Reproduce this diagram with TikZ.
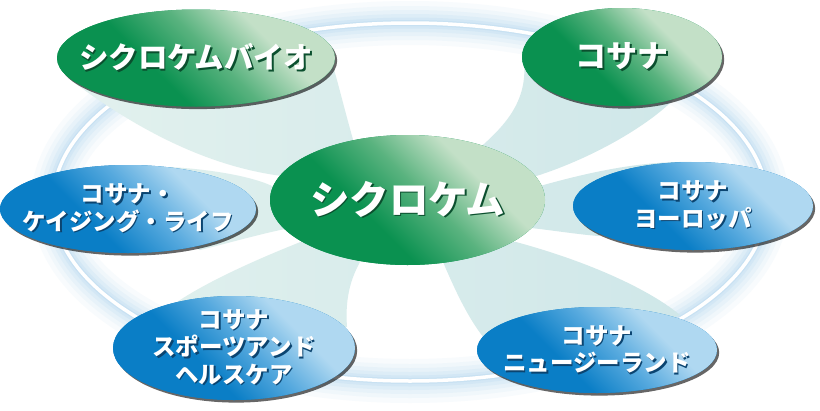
\documentclass[tikz,border=0pt]{standalone}
\usepackage{fontspec}
\newfontfamily\jp{Noto Sans CJK JP}
\usetikzlibrary{shapes.geometric,shadows}
\definecolor{gdark}{HTML}{0A9150}
\definecolor{gmid}{HTML}{5AB37F}
\definecolor{glight}{HTML}{C3E0C7}
\definecolor{bdark}{HTML}{0A7EC6}
\definecolor{bmid}{HTML}{56A9DE}
\definecolor{blight}{HTML}{AFD8F1}
\definecolor{gshadow}{HTML}{0B4F2E}
\definecolor{bshadow}{HTML}{0B4470}
\definecolor{wedgeL}{HTML}{E2F1EE}
\definecolor{wedgeR}{HTML}{CFE7E9}
\definecolor{glowc}{HTML}{9CCBEA}
\colorlet{shc}{black}
\pgfdeclarehorizontalshading{gshade}{100bp}{color(0bp)=(gdark); color(43.5bp)=(gdark); color(52.5bp)=(gmid); color(61bp)=(glight); color(100bp)=(glight)}
\pgfdeclarehorizontalshading{bshade}{100bp}{color(0bp)=(bdark); color(43.5bp)=(bdark); color(52.5bp)=(bmid); color(61bp)=(blight); color(100bp)=(blight)}
\newcommand{\sht}[1]{\leavevmode\rlap{\hspace{1.6pt}\raisebox{-1.6pt}{\textcolor{shc}{#1}}}\textcolor{white}{#1}}
\tikzset{
  bubble/.style 2 args={ellipse, inner sep=0pt, fill=#1dark,
    path picture={
      \shade[shading=#1shade, shading angle=45]
        ([xshift=-1.4*#2pt, yshift=-1.4*#2pt]path picture bounding box.center) rectangle
        ([xshift=1.4*#2pt, yshift=1.4*#2pt]path picture bounding box.center);}},
  gbub/.style={bubble={g}{#1}},
  bbub/.style={bubble={b}{#1}},
  shadowed/.style={drop shadow={shadow xshift=2.2pt, shadow yshift=-2.6pt, fill=black, opacity=.6}},
  gtxt/.style={font=\jp\bfseries\fontsize{#1}{#1}\selectfont, inner sep=0pt,
    execute at begin node=\colorlet{shc}{gshadow}},
  btxt/.style={font=\jp\bfseries\fontsize{23.5}{27.5}\selectfont, inner sep=0pt, align=center,
    execute at begin node=\colorlet{shc}{bshadow}},
  glowline/.style={draw=glowc, line width=#1},
  ringline/.style={draw=white, line width=3.5pt}
}
\begin{document}
\begin{tikzpicture}[x=1pt,y=-1pt]
\useasboundingbox (0,0) rectangle (820,410);
\fill[white] (0,0) rectangle (820,410);
% glowing ring
\coordinate (ringc) at (410,202);
\foreach \w/\o in {44/0.07,34/0.08,26/0.1,18/0.12,11/0.15,6/0.2}
  \draw[glowline=\w pt, opacity=\o] (ringc) ellipse [x radius=357pt, y radius=179pt];
\draw[ringline] (ringc) ellipse [x radius=357pt, y radius=179pt];
% wedges
\shade[left color=wedgeL, right color=wedgeR]
  (400,195) -- (282,176) .. controls (220,168) and (150,140) .. (68,78) -- (196,58) -- (333,66) .. controls (340,90) and (345,112) .. (356,150) -- cycle
  (410,195) -- (475,152) .. controls (500,130) and (528,105) .. (524,62) -- (622,57) -- (676,97) .. controls (650,125) and (590,160) .. (530,178) -- cycle
  (410,200) -- (540,186) .. controls (590,172) and (640,161) .. (692,162) -- (693,206) -- (598,236) .. controls (575,234) and (550,230) .. (531,228) -- cycle
  (470,240) -- (443,262) .. controls (455,290) and (468,318) .. (484,338) -- (597,350) -- (680,315) .. controls (650,290) and (590,262) .. (516,242) -- cycle
  (340,240) -- (303,241) .. controls (260,258) and (210,280) .. (177,302) -- (234,348) -- (347,327) .. controls (345,300) and (350,280) .. (360,262) -- cycle
  (330,210) -- (272,186) .. controls (255,178) and (220,170) .. (170,167) -- (128,209) -- (200,250) .. controls (225,244) and (260,234) .. (285,229) -- cycle;
% bubbles
\node[gbub=107.5, minimum width=275pt, minimum height=130pt] (main) at (407.5,200) {};
\node[gbub=104, shadowed, minimum width=278pt, minimum height=97pt] (bio) at (196,58) {};
\node[gbub=79, shadowed, minimum width=200pt, minimum height=98pt] (kosana) at (622,57) {};
\node[bbub=96, shadowed, minimum width=256pt, minimum height=88pt] (kl) at (128,209) {};
\node[bbub=90, shadowed, minimum width=240pt, minimum height=88pt] (eu) at (693,206) {};
\node[bbub=93, shadowed, minimum width=242pt, minimum height=104pt] (sh) at (234,348) {};
\node[bbub=90, shadowed, minimum width=240pt, minimum height=86pt] (nz) at (597,350) {};
% texts
\node[gtxt=39.5] (maint) at (main) {\sht{シクロケム}};
\node[gtxt=29.5] (biot) at (bio) {\sht{シクロケムバイオ}};
\node[gtxt=31] (kosanat) at (kosana) {\sht{コサナ}};
\node[btxt] (klt) at (kl) {\sht{コサナ・}\\\sht{ケイジング・ライフ}};
\node[btxt] (eut) at (eu) {\sht{コサナ}\\\sht{ヨーロッパ}};
\node[btxt] (sht) at (sh) {\sht{コサナ}\\\sht{スポーツアンド}\\\sht{ヘルスケア}};
\node[btxt] (nzt) at (nz) {\sht{コサナ}\\\sht{ニュージーランド}};
\end{tikzpicture}
\end{document}
